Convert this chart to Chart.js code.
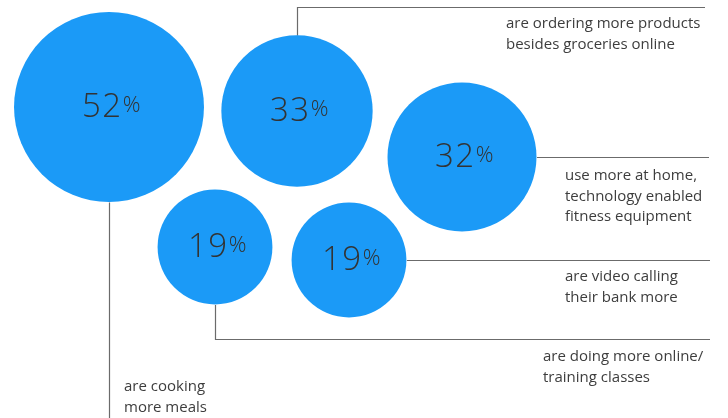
<!DOCTYPE html>
<html>
<head>
<meta charset="utf-8">
<script src="https://cdn.jsdelivr.net/npm/chart.js@4/dist/chart.umd.min.js"></script>
<style>
  html, body { margin: 0; padding: 0; background: #fff; }
  #wrap { width: 728px; height: 418px; }
</style>
</head>
<body>
<div id="wrap"><canvas id="mycanvas"></canvas></div>
<script>
// data
var values = [52, 33, 32, 19, 19];
var labelLines = [
  ['are cooking', 'more meals'],
  ['are ordering more products', 'besides groceries online'],
  ['use more at home,', 'technology enabled', 'fitness equipment'],
  ['are doing more online/', 'training classes'],
  ['are video calling', 'their bank more']
];

// layout (bubble centres, in page pixels)
var bubbleX = [109, 297, 462, 215, 349];
var bubbleY = [107, 111, 157, 247, 260];
var radiusScale = 13.17; // px per sqrt(percent)

var blue = '#1b9af7';
var lineColor = '#6b6b6b';
var textColor = '#3d3d3d';

var points = values.map(function(v, i) {
  return { x: bubbleX[i], y: bubbleY[i], r: radiusScale * Math.sqrt(v) };
});

// leader line end points and label anchors
var leaders = [
  { type: 'down', endY: 418, tx: 124, ty: 387 },
  { type: 'upRight', turnY: 7, endX: 705, tx: 506, ty: 24 },
  { type: 'right', endX: 709, tx: 565, ty: 176 },
  { type: 'downRight', turnY: 339, endX: 710, tx: 543, ty: 357 },
  { type: 'right', endX: 710, tx: 565, ty: 277 }
];

var calloutPlugin = {
  id: 'callouts',
  beforeDatasetsDraw: function(chart) {
    var ctx = chart.ctx;
    var meta = chart.getDatasetMeta(0);
    ctx.save();
    ctx.strokeStyle = lineColor;
    ctx.lineWidth = 1.2;
    meta.data.forEach(function(el, i) {
      var x = Math.round(el.x) + 0.5, y = Math.round(el.y) + 0.5, r = el.options.radius;
      var l = leaders[i];
      ctx.beginPath();
      if (l.type === 'down') {
        ctx.moveTo(x, y + r); ctx.lineTo(x, l.endY);
      } else if (l.type === 'upRight') {
        ctx.moveTo(x, y - r); ctx.lineTo(x, l.turnY + 0.5); ctx.lineTo(l.endX, l.turnY + 0.5);
      } else if (l.type === 'right') {
        ctx.moveTo(x + r, y); ctx.lineTo(l.endX, y);
      } else if (l.type === 'downRight') {
        ctx.moveTo(x, y + r); ctx.lineTo(x, l.turnY + 0.5); ctx.lineTo(l.endX, l.turnY + 0.5);
      }
      ctx.stroke();
    });
    ctx.restore();
  },
  afterDatasetsDraw: function(chart) {
    var ctx = chart.ctx;
    var meta = chart.getDatasetMeta(0);
    ctx.save();
    meta.data.forEach(function(el, i) {
      // value inside bubble
      var num = String(values[i]);
      ctx.letterSpacing = '1.5px';
      ctx.font = '300 33px "Open Sans"';
      var wNum = ctx.measureText(num).width;
      ctx.font = '300 22px "Open Sans"';
      var wPct = ctx.measureText('%').width;
      var left = el.x - (wNum + wPct) / 2 + 3;
      ctx.fillStyle = '#333';
      ctx.textBaseline = 'middle';
      ctx.textAlign = 'left';
      ctx.font = '300 33px "Open Sans"';
      ctx.fillText(num, left, el.y + 1);
      ctx.font = '300 22px "Open Sans"';
      ctx.fillText('%', left + wNum, el.y - 1);

      // callout text
      ctx.letterSpacing = '0px';
      var l = leaders[i];
      ctx.fillStyle = textColor;
      ctx.font = '15px "Open Sans"';
      labelLines[i].forEach(function(line, j) {
        ctx.fillText(line, l.tx, l.ty + j * 20.5);
      });
    });
    ctx.restore();
  }
};

var ctx = document.getElementById('mycanvas');
var myChart = new Chart(ctx, {
  type: 'bubble',
  data: {
    datasets: [{
      data: points,
      backgroundColor: blue,
      borderWidth: 0,
      hoverBackgroundColor: blue,
      clip: false
    }]
  },
  options: {
    responsive: true,
    maintainAspectRatio: false,
    animation: false,
    events: [],
    layout: { padding: 0, autoPadding: false },
    plugins: {
      legend: { display: false },
      tooltip: { enabled: false }
    },
    scales: {
      x: { type: 'linear', min: 0, max: 728, display: false },
      y: { type: 'linear', min: 0, max: 418, reverse: true, display: false }
    }
  },
  plugins: [calloutPlugin]
});
</script>
</body>
</html>
